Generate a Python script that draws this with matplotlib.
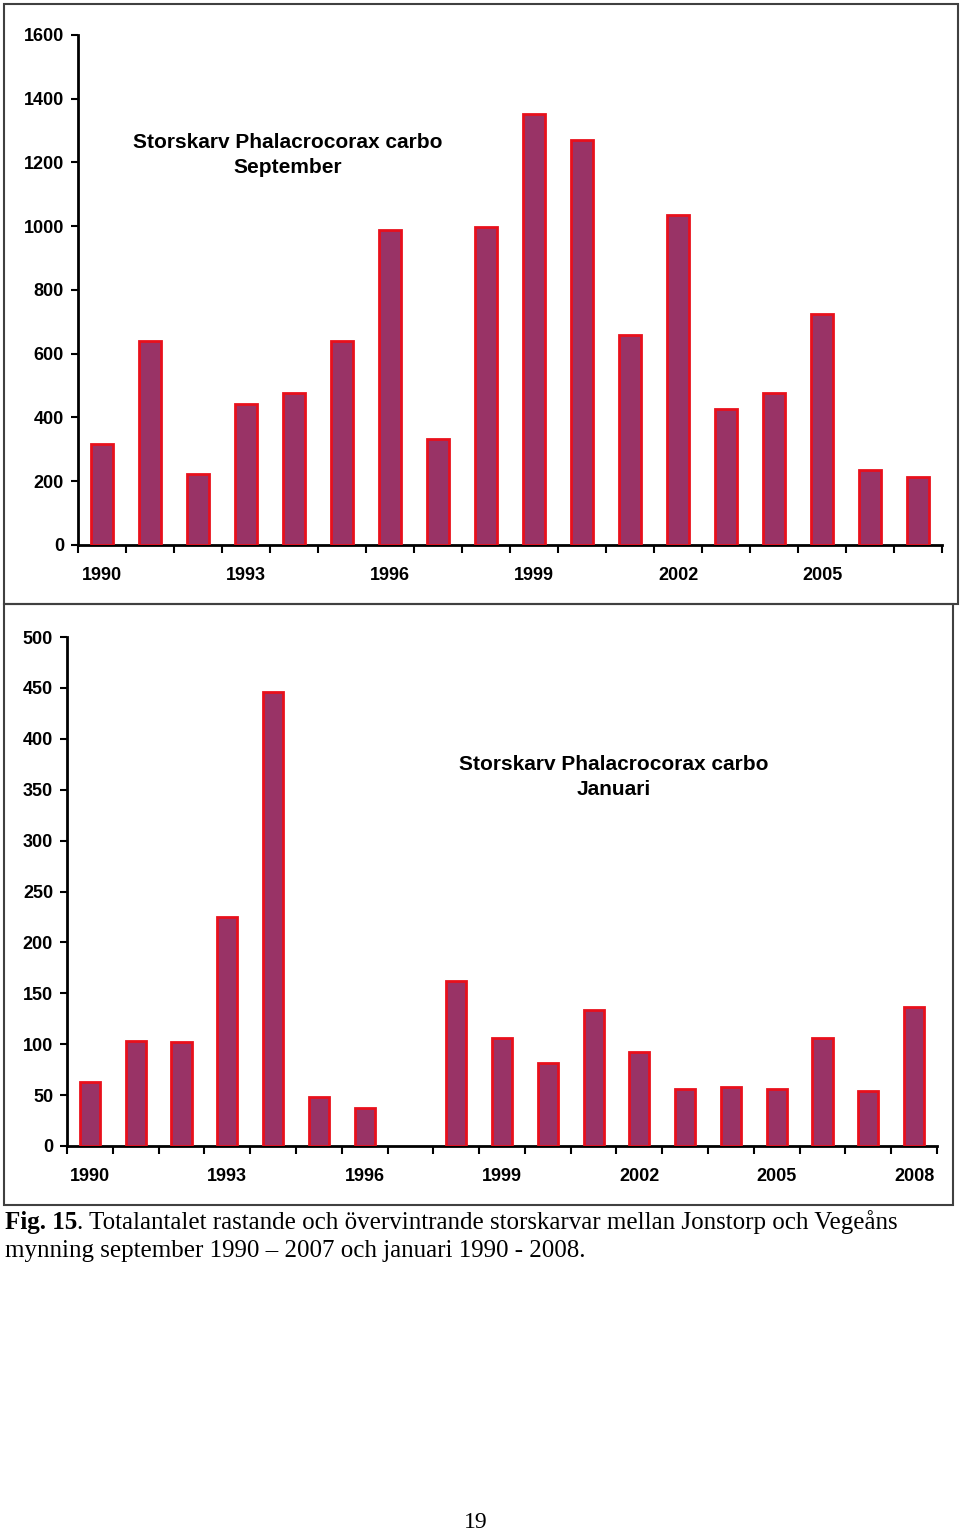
import numpy as np
import matplotlib
matplotlib.use('Agg')
import matplotlib.pyplot as plt
from matplotlib.patches import Rectangle

plt.rcParams['font.family'] = ['Liberation Sans', 'DejaVu Sans']

# September counts 1990-2007
sep_years = list(range(1990, 2008))
sep_counts = [318, 640, 224, 442, 476, 639, 988, 332, 999, 1352,
              1271, 660, 1036, 428, 476, 724, 236, 212]

# January counts 1990-2008 (no count 1997)
jan_years = list(range(1990, 2009))
jan_counts = [63, 103, 102, 225, 446, 48, 37, 0, 162, 106,
              82, 134, 92, 56, 58, 56, 106, 54, 137]

sep_title = 'Storskarv Phalacrocorax carbo\nSeptember'
jan_title = 'Storskarv Phalacrocorax carbo\nJanuari'
caption_bold = 'Fig. 15'
caption_rest = ('. Totalantalet rastande och övervintrande storskarvar mellan Jonstorp och Vegeåns')
caption_line2 = 'mynning september 1990 \u2013 2007 och januari 1990 - 2008.'

W, H = 960, 1532
fig = plt.figure(figsize=(W / 100, H / 100), dpi=100)
fig.patch.set_facecolor('white')

def fx(px):
    return px / W

def fy(py):
    return 1 - py / H

def panel(rect_px, years, counts, ymax, ystep, label_every, title, title_xy):
    x0, y0, x1, y1 = rect_px
    ax = fig.add_axes([fx(x0), fy(y1), fx(x1 - x0), (y1 - y0) / H])
    n = len(years)
    pos = np.arange(n)
    lw = [2.0 if c > 0 else 0 for c in counts]
    ax.bar(pos, counts, width=0.44, color='#993366', edgecolor='#E8101C',
           linewidth=lw, zorder=3)
    ax.set_xlim(-0.5, n - 0.5)
    ax.set_ylim(0, ymax)
    ax.set_yticks(np.arange(0, ymax + 1, ystep))
    ax.tick_params(axis='y', direction='out', length=5, width=1.5, pad=5,
                   labelsize=13)
    for lab in ax.get_yticklabels():
        lab.set_fontweight('bold')
    ax.set_xticks(np.arange(n + 1) - 0.5)
    ax.set_xticklabels([])
    ax.tick_params(axis='x', which='major', direction='out', length=6, width=1.5)
    lab_pos = [i for i in range(n) if i % label_every == 0]
    ax.set_xticks(lab_pos, minor=True)
    ax.set_xticklabels([str(years[i]) for i in lab_pos], minor=True,
                       fontsize=13, fontweight='bold')
    ax.tick_params(axis='x', which='minor', length=0, pad=16)
    for s in ['top', 'right']:
        ax.spines[s].set_visible(False)
    for s in ['left', 'bottom']:
        ax.spines[s].set_linewidth(2)
    ax.set_facecolor('none')
    fig.text(fx(title_xy[0]), fy(title_xy[1]), title, ha='center', va='center',
             fontsize=15, fontweight='bold', linespacing=1.4)
    return ax

panel((78, 35, 942, 545), sep_years, sep_counts, 1600, 200, 3,
      sep_title, (288, 155))
panel((67, 637, 937, 1146), jan_years, jan_counts, 500, 50, 3,
      jan_title, (614, 777))

# panel frames
for (x0, y0, x1, y1) in [(4, 4, 958, 604), (4, 604, 953, 1205)]:
    fig.add_artist(Rectangle((fx(x0), fy(y1)), fx(x1 - x0), (y1 - y0) / H,
                             transform=fig.transFigure, fill=False,
                             edgecolor='#404040', linewidth=1.5))

# caption
serif = ['Liberation Serif', 'DejaVu Serif']
t1 = fig.text(fx(5), fy(1222), caption_bold, family=serif, fontsize=18,
              fontweight='bold', va='center', ha='left')
fig.canvas.draw()
bb = t1.get_window_extent()
fig.text(bb.x1 / W, fy(1222), caption_rest, family=serif, fontsize=18,
         va='center', ha='left')
fig.text(fx(5), fy(1251), caption_line2, family=serif, fontsize=18,
         va='center', ha='left')
fig.text(fx(476), fy(1523), '19', family=serif, fontsize=17,
         va='center', ha='center')

fig.savefig('out.png', dpi=100, facecolor='white')
